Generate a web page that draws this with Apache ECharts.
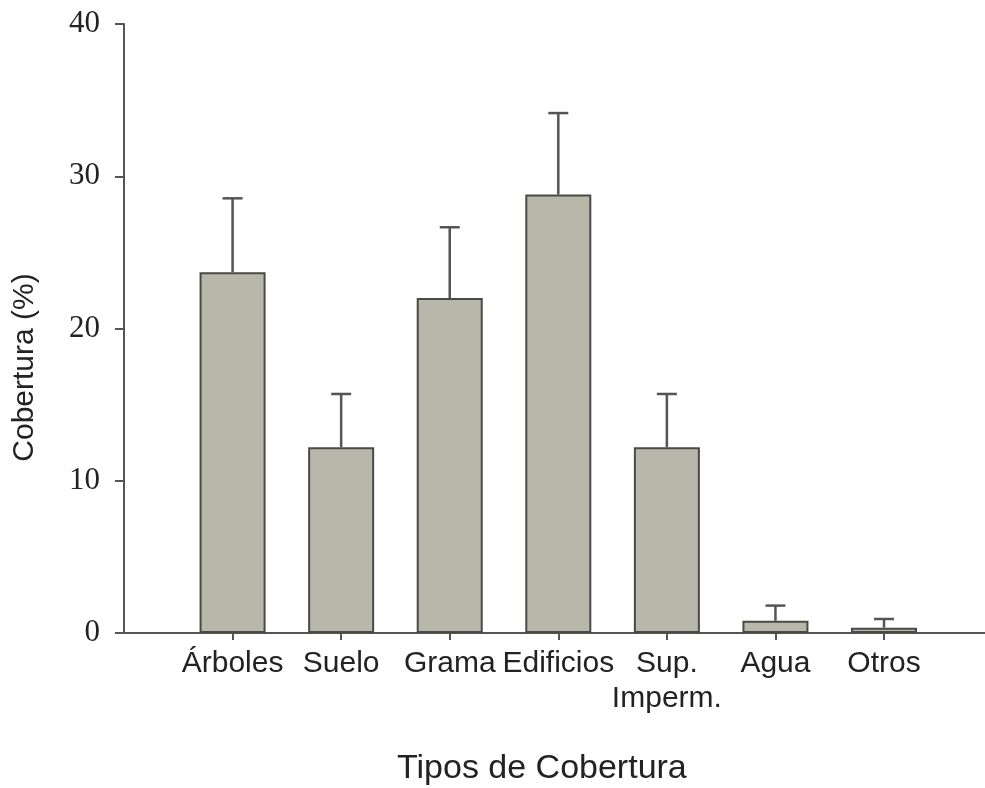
<!DOCTYPE html>
<html>
<head>
<meta charset="utf-8">
<script src="https://cdn.jsdelivr.net/npm/echarts@6/dist/echarts.min.js"></script>
<style>html,body{margin:0;padding:0;background:#fff;}#c{width:985px;height:788px;}</style>
</head>
<body>
<div id="c"></div>
<script>
const categories = ['Árboles', 'Suelo', 'Grama', 'Edificios', 'Sup.\nImperm.', 'Agua', 'Otros'];
const positions = [1, 2, 3, 4, 5, 6, 7];
const coverage = [23.7, 12.2, 22.0, 28.8, 12.2, 0.8, 0.35];
const errorUpper = [4.85, 3.5, 4.65, 5.35, 3.5, 1.0, 0.57];
const yTicks = [0, 10, 20, 30, 40];

const chart = echarts.init(document.getElementById('c'));
const barData = positions.map((p, i) => [p, coverage[i]]);
const errData = positions.map((p, i) => [p, coverage[i], coverage[i] + errorUpper[i]]);

chart.setOption({
  animation: false,
  backgroundColor: '#ffffff',
  title: {
    text: 'Tipos de Cobertura',
    left: 392, top: 747,
    textStyle: { fontFamily: 'Liberation Sans, Arial', fontSize: 34, fontWeight: 'normal', color: '#222' }
  },
  grid: { left: 124, right: 0, top: 24, bottom: 155, containLabel: false, outerBoundsMode: 'none' },
  xAxis: {
    type: 'value', min: 0, max: 7.93,
    splitLine: { show: false },
    axisLine: { show: true, lineStyle: { color: '#555', width: 2 } },
    axisTick: { show: true, length: 7, customValues: positions, lineStyle: { color: '#555', width: 2 } },
    axisLabel: {
      customValues: positions, margin: 13,
      fontFamily: 'Liberation Sans, Arial', fontSize: 30, color: '#222', lineHeight: 35,
      formatter: v => categories[Math.round(v) - 1] || ''
    }
  },
  yAxis: {
    type: 'value', min: yTicks[0], max: yTicks[yTicks.length - 1], interval: 10,
    splitLine: { show: false },
    axisLine: { show: true, lineStyle: { color: '#555', width: 2 } },
    axisTick: { show: true, length: 9, lineStyle: { color: '#555', width: 2 } },
    axisLabel: { margin: 24, fontFamily: 'Liberation Serif, Times New Roman', fontSize: 31, color: '#222' },
    name: 'Cobertura (%)',
    nameLocation: 'middle', nameGap: 84, nameRotate: 90,
    nameTextStyle: { fontFamily: 'Liberation Sans, Arial', fontSize: 30, color: '#222', padding: [0, 78, 0, 0] }
  },
  series: [
    {
      type: 'bar', data: barData, barWidth: 66,
      itemStyle: { color: '#b8b8aa', borderColor: '#4a4a44', borderWidth: 2 },
      z: 2
    },
    {
      type: 'custom', data: errData, z: 3,
      renderItem: (params, api) => {
        const x = api.value(0);
        const lo = api.coord([x, api.value(1)]);
        const hi = api.coord([x, api.value(2)]);
        const style = { stroke: '#555', lineWidth: 2.5 };
        return {
          type: 'group',
          children: [
            { type: 'line', shape: { x1: lo[0], y1: lo[1], x2: hi[0], y2: hi[1] }, style },
            { type: 'line', shape: { x1: hi[0] - 10, y1: hi[1], x2: hi[0] + 10, y2: hi[1] }, style }
          ]
        };
      }
    }
  ]
});
</script>
</body>
</html>
